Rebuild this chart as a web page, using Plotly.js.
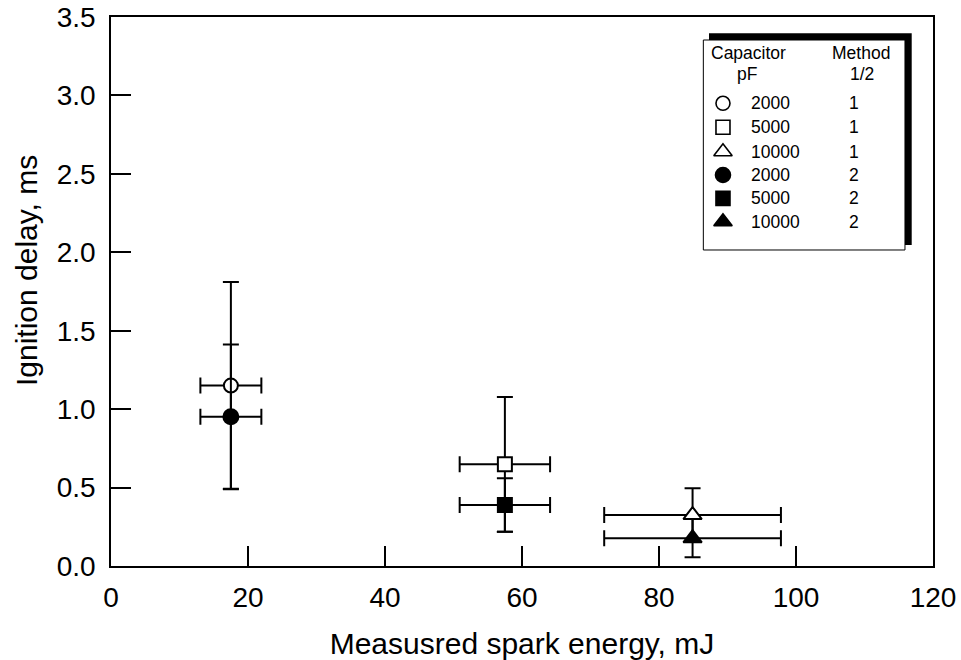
<!DOCTYPE html>
<html>
<head>
<meta charset="utf-8">
<script src="https://cdn.plot.ly/plotly-3.0.1.min.js"></script>
<style>html,body{margin:0;padding:0;background:#fff;}#chart{width:961px;height:660px;}</style>
</head>
<body>
<div id="chart"></div>
<script>
// ---- Data ----
const seriesNames = ["2000 pF, method 1", "5000 pF, method 1", "10000 pF, method 1",
                     "2000 pF, method 2", "5000 pF, method 2", "10000 pF, method 2"];
const sparkEnergy = [17.5, 57.5, 84.9, 17.5, 57.5, 84.9];         // mJ
const energyErr   = [4.45, 6.6, 12.9, 4.45, 6.6, 12.9];           // mJ (+/-)
const ignitionDelay = [1.15, 0.648, 0.325, 0.952, 0.389, 0.177];  // ms
const delayErr      = [0.66, 0.43, 0.17, 0.46, 0.17, 0.122];      // ms (+/-)
const symbols = ["circle-open", "square-open", "triangle-up-open", "circle", "square", "triangle-up"];

// legend table
const legendCapacitor = ["2000", "5000", "10000", "2000", "5000", "10000"];
const legendMethod = ["1", "1", "1", "2", "2", "2"];
const legendHeader = ["Capacitor", "pF", "Method", "1/2"];

const xTicks = [0, 20, 40, 60, 80, 100, 120];
const yTicks = [0, 0.5, 1.0, 1.5, 2.0, 2.5, 3.0, 3.5];

const FONT = "Liberation Sans, Arial, Helvetica, sans-serif";
const markerSize = [14, 14, 16, 15, 14, 16];
const legendMarkerSize = [14, 14, 16, 15, 14, 16];

const traces = [];
for (let i = 0; i < sparkEnergy.length; i++) {
  const open = symbols[i].indexOf("open") >= 0;
  traces.push({
    type: "scatter", mode: "markers", name: seriesNames[i],
    x: [sparkEnergy[i]], y: [ignitionDelay[i]],
    error_x: {type: "data", array: [energyErr[i]], color: "#000", thickness: 2, width: 8},
    error_y: {type: "data", array: [delayErr[i]], color: "#000", thickness: 2, width: 8},
    marker: {
      symbol: open ? symbols[i].replace("-open", "") : symbols[i],
      size: markerSize[i],
      color: open ? "#fff" : "#000",
      opacity: 1,
      line: {color: "#000", width: 2}
    },
    showlegend: false, hoverinfo: "skip"
  });
}

// legend symbols on an invisible overlay axis (fractions of the plot area)
const legSymX = 0.7445;
const legRowY = [0.8428, 0.7991, 0.7546, 0.7122, 0.6697, 0.6271];
for (let i = 0; i < symbols.length; i++) {
  const open = symbols[i].indexOf("open") >= 0;
  traces.push({
    type: "scatter", mode: "markers", xaxis: "x2", yaxis: "y2",
    x: [legSymX], y: [legRowY[i]],
    marker: {
      symbol: symbols[i].replace("-open", ""),
      size: legendMarkerSize[i],
      color: open ? "#ffffff" : "#000000",
      opacity: 1,
      line: {color: "#000000", width: 1.6}
    },
    showlegend: false, hoverinfo: "skip"
  });
}

const annotations = [];
const lf = {family: FONT, size: 17.5, color: "#000"};
function ann(x, y, text, xanchor) {
  return {xref: "paper", yref: "paper", x: x, y: y, text: text, showarrow: false,
          xanchor: xanchor, yanchor: "middle", font: lf, borderpad: 0};
}
annotations.push(ann(0.7758, 0.9338, legendHeader[0], "center"));
annotations.push(ann(0.7734, 0.8962, legendHeader[1], "center"));
annotations.push(ann(0.9130, 0.9338, legendHeader[2], "center"));
annotations.push(ann(0.9133, 0.8962, legendHeader[3], "center"));
for (let i = 0; i < legendCapacitor.length; i++) {
  annotations.push(ann(0.7774, legRowY[i], legendCapacitor[i], "left"));
  annotations.push(ann(0.9039, legRowY[i], legendMethod[i], "center"));
}
// y-axis title
annotations.push({xref: "paper", yref: "paper", x: -0.1035, y: 0.539, text: "Ignition delay, ms",
  textangle: -90, showarrow: false, xanchor: "center", yanchor: "middle",
  font: {family: FONT, size: 30, color: "#000"}});

const shapes = [
  {type: "rect", xref: "paper", yref: "paper", x0: 0.7275, x1: 0.9741, y0: 0.5847, y1: 0.9703, fillcolor: "#000", line: {width: 0}, layer: "below"},
  {type: "rect", xref: "paper", yref: "paper", x0: 0.7206, x1: 0.9659, y0: 0.5756, y1: 0.9581, fillcolor: "#fff", line: {color: "#000", width: 1}, layer: "below"}
];

const axisCommon = {
  showgrid: false, zeroline: false, showline: true, mirror: true,
  linecolor: "#000", linewidth: 2, ticks: "inside", ticklen: 20, tickwidth: 2, tickcolor: "#000",
  tickfont: {family: FONT, size: 28, color: "#000"}
};

const layout = {
  width: 961, height: 660,
  margin: {l: 111, r: 28, t: 17, b: 94},
  paper_bgcolor: "#fff", plot_bgcolor: "#fff",
  font: {family: FONT, color: "#000"},
  xaxis: Object.assign({}, axisCommon, {
    range: [0, 120], tickvals: xTicks, ticktext: xTicks.map(String), ticklabelstandoff: 5,
    title: {text: "Measusred spark energy, mJ", font: {family: FONT, size: 30, color: "#000"}, standoff: 22}
  }),
  yaxis: Object.assign({}, axisCommon, {
    range: [0, 3.5], tickvals: yTicks, ticktext: yTicks.map(v => v.toFixed(1) + "\u00A0")
  }),
  xaxis2: {domain: [0, 1], range: [0, 1], overlaying: "x", anchor: "y2", visible: false, fixedrange: true},
  yaxis2: {domain: [0, 1], range: [0, 1], overlaying: "y", anchor: "x2", visible: false, fixedrange: true},
  shapes: shapes,
  annotations: annotations,
  showlegend: false
};

Plotly.newPlot("chart", traces, layout, {staticPlot: true});
</script>
</body>
</html>
